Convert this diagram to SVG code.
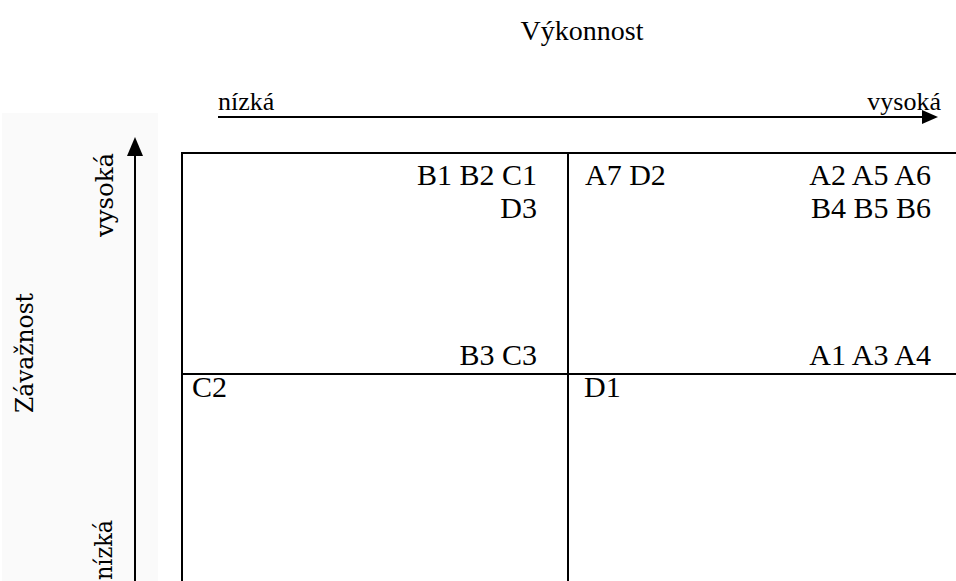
<svg xmlns="http://www.w3.org/2000/svg" width="956" height="581" viewBox="0 0 956 581">
<style>
.t{font-family:"Liberation Serif","Times New Roman",serif;fill:#000}
.c{font-size:30px}
.ax{font-size:26px}
.r{font-family:"DejaVu Serif","Liberation Serif",serif;font-size:24px;fill:#000}
.g{stroke:#000;stroke-width:2;fill:none}
</style>
<rect x="0" y="0" width="956" height="581" fill="#fff"/>
<rect x="2" y="113" width="156" height="468" fill="#fafafa"/>
<g id="title"><text class="t" x="582" y="40" font-size="28" text-anchor="middle">Výkonnost</text></g>
<g id="axis-x">
<text class="t ax" x="218" y="110">nízká</text>
<text class="t ax" x="941" y="110" text-anchor="end">vysoká</text>
<line x1="218" y1="117" x2="924" y2="117" stroke="#000" stroke-width="2"/>
<polygon points="922,110 938,117 922,124" fill="#000"/>
</g>
<g id="axis-y">
<line x1="135" y1="581" x2="135" y2="152" stroke="#000" stroke-width="2"/>
<polygon points="135,137 127,156 143,156" fill="#000"/>
<text class="r" transform="translate(113,237) rotate(-90)" textLength="84" lengthAdjust="spacingAndGlyphs">vysoká</text>
<text class="r" transform="translate(33,413) rotate(-90)" textLength="120" lengthAdjust="spacingAndGlyphs">Závažnost</text>
<text class="r" transform="translate(112,580) rotate(-90)" textLength="60" lengthAdjust="spacingAndGlyphs">nízká</text>
</g>
<g id="grid">
<line class="g" x1="181" y1="153" x2="956" y2="153"/>
<line class="g" x1="182" y1="152" x2="182" y2="581"/>
<line class="g" x1="568" y1="153" x2="568" y2="581"/>
<line class="g" x1="181" y1="374" x2="956" y2="374"/>
</g>
<g id="q-top-left">
<text class="t c" x="537" y="185" text-anchor="end">B1 B2 C1</text>
<text class="t c" x="537" y="218" text-anchor="end">D3</text>
<text class="t c" x="537" y="365" text-anchor="end">B3 C3</text>
</g>
<g id="q-top-right">
<text class="t c" x="585" y="185">A7 D2</text>
<text class="t c" x="931" y="185" text-anchor="end">A2 A5 A6</text>
<text class="t c" x="931" y="218" text-anchor="end">B4 B5 B6</text>
<text class="t c" x="931" y="365" text-anchor="end">A1 A3 A4</text>
</g>
<g id="q-bottom-left"><text class="t c" x="192" y="397">C2</text></g>
<g id="q-bottom-right"><text class="t c" x="584" y="397">D1</text></g>
</svg>
